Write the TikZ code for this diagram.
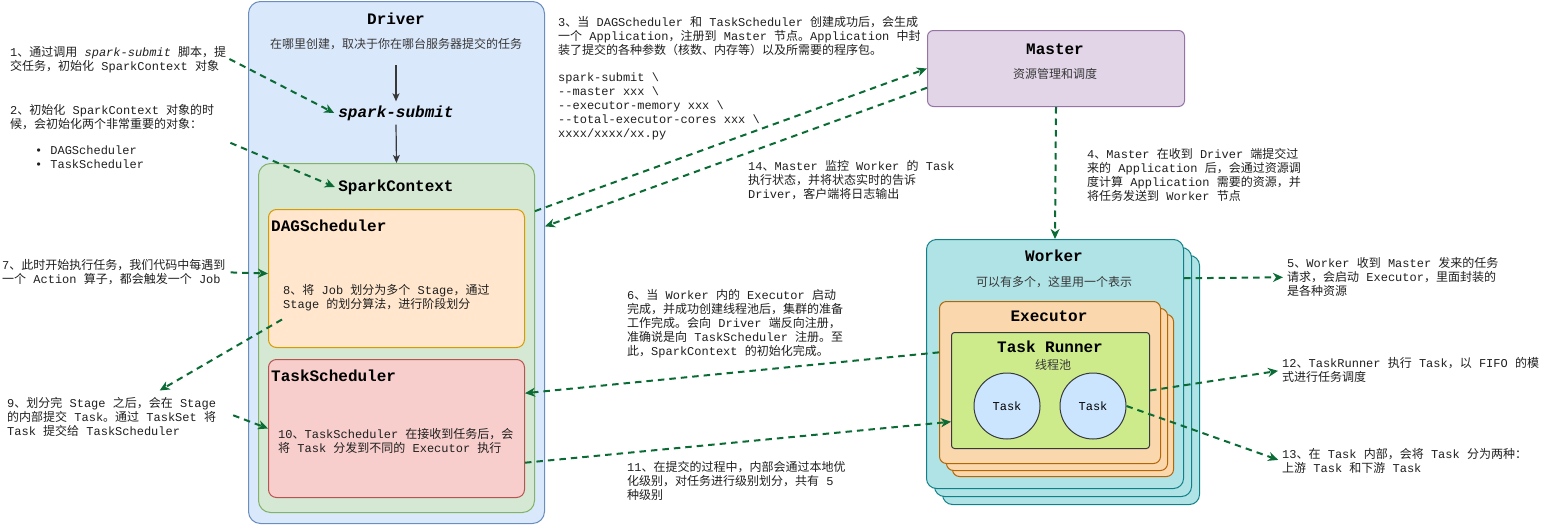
\documentclass[tikz,border=0pt]{standalone}
\usepackage{fontspec}
\setmainfont{Liberation Mono}
\setmonofont{Liberation Mono}
\newfontfamily\cjk{Noto Sans CJK SC}
\renewcommand{\familydefault}{\ttdefault}
\usetikzlibrary{arrows.meta,calc}
\XeTeXinterchartokenstate=1
\newXeTeXintercharclass\CJKcls
\newcount\cjkcnt
\cjkcnt="3000 \loop\XeTeXcharclass\cjkcnt=\CJKcls\relax\ifnum\cjkcnt<"9FFF\relax\advance\cjkcnt by 1 \repeat
\cjkcnt="FF00 \loop\XeTeXcharclass\cjkcnt=\CJKcls\relax\ifnum\cjkcnt<"FFEF\relax\advance\cjkcnt by 1 \repeat
\XeTeXinterchartoks 0 \CJKcls = {\cjk}
\XeTeXinterchartoks 4095 \CJKcls = {\cjk}
\XeTeXinterchartoks \CJKcls 0 = {\normalfont}
\XeTeXinterchartoks \CJKcls 4095 = {\normalfont}
\definecolor{drvF}{HTML}{DAE8FC}\definecolor{drvD}{HTML}{6C8EBF}
\definecolor{scF}{HTML}{D5E8D4}\definecolor{scD}{HTML}{82B366}
\definecolor{dagF}{HTML}{FFE6CC}\definecolor{dagD}{HTML}{D79B00}
\definecolor{tsF}{HTML}{F8CECC}\definecolor{tsD}{HTML}{B85450}
\definecolor{msF}{HTML}{E1D5E7}\definecolor{msD}{HTML}{9673A6}
\definecolor{wkF}{HTML}{B0E3E6}\definecolor{wkD}{HTML}{0E8088}
\definecolor{exF}{HTML}{FAD7AC}\definecolor{exD}{HTML}{B46504}
\definecolor{trF}{HTML}{CDEB8B}\definecolor{trD}{HTML}{36393D}
\definecolor{tkF}{HTML}{CCE5FF}
\definecolor{flowC}{HTML}{0B6B35}
\begin{document}
\begin{tikzpicture}[x=1pt,y=-1pt,
  box/.style={draw, line width=1pt, anchor=north west, inner sep=0pt},
  ttl/.style={font=\fontsize{16}{19}\selectfont\bfseries, text=black},
  subt/.style={font=\fontsize{12}{14}\selectfont, text=black!78},
  lbl/.style={font=\fontsize{12}{14}\selectfont, align=left, anchor=north west, inner sep=0pt, text=black!88},
  flow/.style={draw=flowC, line width=2pt, dash pattern=on 6.5pt off 5pt, -{Stealth[length=10pt,width=9pt,inset=3pt]}},
  blk/.style={draw=black!78, line width=1.2pt, -{Stealth[length=8pt,width=7pt,inset=2pt]}}
]
\useasboundingbox (0,0) rectangle (1547,525);

% Driver
\node[box, fill=drvF, draw=drvD, rounded corners=12pt, minimum width=296pt, minimum height=522pt] (driver) at (248,1) {};
\node[ttl] (drvT) at (396,19) {Driver};
\node[subt] (drvS) at (396,44) {在哪里创建，取决于你在哪台服务器提交的任务};
\node[font=\fontsize{16}{19}\selectfont\bfseries\itshape, inner sep=4pt] (submit) at (396,113) {spark-submit};
\node[box, fill=scF, draw=scD, rounded corners=12pt, minimum width=276pt, minimum height=349pt] (sc) at (258,163) {};
\node[ttl] (scT) at (396,187) {SparkContext};
\node[box, fill=dagF, draw=dagD, rounded corners=8pt, minimum width=256pt, minimum height=138pt] (dag) at (268,209) {};
\node[ttl, anchor=west, inner sep=0pt] (dagT) at (271,226) {DAGScheduler};
\node[lbl] (lbl8) at (283,284.5) {8、将 Job 划分为多个 Stage，通过\\Stage 的划分算法，进行阶段划分};
\node[box, fill=tsF, draw=tsD, rounded corners=8pt, minimum width=256pt, minimum height=138pt] (ts) at (268,359) {};
\node[ttl, anchor=west, inner sep=0pt] (tsT) at (271,376) {TaskScheduler};
\node[lbl] (lbl10) at (278,428.5) {10、TaskScheduler 在接收到任务后，会\\将 Task 分发到不同的 Executor 执行};

\draw[blk] ([yshift=-12pt]drvS.south) -- (submit.north);
\draw[blk] (submit.south) -- (sc.north);

% Master
\node[box, fill=msF, draw=msD, rounded corners=6pt, minimum width=257pt, minimum height=76pt] (master) at (927,30) {};
\node[ttl] (msT) at (1055,49) {Master};
\node[subt] (msS) at (1055,74) {资源管理和调度};

% Worker stack
\node[box, fill=wkF, draw=wkD, rounded corners=10pt, minimum width=257pt, minimum height=249pt] (worker3) at (942,255) {};
\node[box, fill=wkF, draw=wkD, rounded corners=10pt, minimum width=257pt, minimum height=249pt] (worker2) at (934,247) {};
\node[box, fill=wkF, draw=wkD, rounded corners=10pt, minimum width=257pt, minimum height=249pt] (worker) at (926,239) {};
\node[ttl] (wkT) at (1054,256) {Worker};
\node[subt] (wkS) at (1054,282) {可以有多个，这里用一个表示};

% Executor stack
\node[box, fill=exF, draw=exD, rounded corners=7pt, minimum width=221pt, minimum height=162pt] (exec3) at (952,314) {};
\node[box, fill=exF, draw=exD, rounded corners=7pt, minimum width=221pt, minimum height=162pt] (exec2) at (946,308) {};
\node[box, fill=exF, draw=exD, rounded corners=7pt, minimum width=221pt, minimum height=162pt] (exec) at (939,301) {};
\node[ttl] (exT) at (1049,316) {Executor};

% Task runner
\node[box, fill=trF, draw=trD, rounded corners=3pt, minimum width=198pt, minimum height=116pt] (runner) at (951,332) {};
\node[ttl] (trT) at (1050,347) {Task Runner};
\node[subt] (trS) at (1053,365) {线程池};
\node[circle, draw=trD, fill=tkF, line width=1pt, minimum size=66pt, inner sep=0pt, font=\fontsize{12}{14}\selectfont] (task1) at (1007,406) {Task};
\node[circle, draw=trD, fill=tkF, line width=1pt, minimum size=66pt, inner sep=0pt, font=\fontsize{12}{14}\selectfont] (task2) at (1093,406) {Task};

% Labels
\node[lbl] (lbl1) at (10,46.5) {1、通过调用 {\itshape spark-submit} 脚本，提\\交任务，初始化 SparkContext 对象};
\node[lbl] (lbl2) at (10,104.5) {2、初始化 SparkContext 对象的时\\候，会初始化两个非常重要的对象：\\[12pt]\hspace*{25pt}•\hspace{8pt}DAGScheduler\\\hspace*{25pt}•\hspace{8pt}TaskScheduler};
\node[lbl] (lbl3) at (558,16.5) {3、当 DAGScheduler 和 TaskScheduler 创建成功后，会生成\\一个 Application，注册到 Master 节点。Application 中封\\装了提交的各种参数（核数、内存等）以及所需要的程序包。\\[13pt]spark-submit \textbackslash\\-{}-master xxx \textbackslash\\-{}-executor-memory xxx \textbackslash\\-{}-total-executor-cores xxx \textbackslash\\xxxx/xxxx/xx.py};
\node[lbl] (lbl14) at (748,160.5) {14、Master 监控 Worker 的 Task\\执行状态，并将状态实时的告诉\\Driver，客户端将日志输出};
\node[lbl] (lbl4) at (1087,148.5) {4、Master 在收到 Driver 端提交过\\来的 Application 后，会通过资源调\\度计算 Application 需要的资源，并\\将任务发送到 Worker 节点};
\node[lbl] (lbl5) at (1287,257.5) {5、Worker 收到 Master 发来的任务\\请求，会启动 Executor，里面封装的\\是各种资源};
\node[lbl] (lbl6) at (627,289.5) {6、当 Worker 内的 Executor 启动\\完成，并成功创建线程池后，集群的准备\\工作完成。会向 Driver 端反向注册，\\准确说是向 TaskScheduler 注册。至\\此，SparkContext 的初始化完成。};
\node[lbl] (lbl11) at (627,461.5) {11、在提交的过程中，内部会通过本地优\\化级别，对任务进行级别划分，共有 5\\种级别};
\node[lbl] (lbl12) at (1282,357.5) {12、TaskRunner 执行 Task，以 FIFO 的模\\式进行任务调度};
\node[lbl] (lbl13) at (1282,448.5) {13、在 Task 内部，会将 Task 分为两种：\\上游 Task 和下游 Task};
\node[lbl] (lbl7) at (2,259.5) {7、此时开始执行任务，我们代码中每遇到\\一个 Action 算子，都会触发一个 Job};
\node[lbl] (lbl9) at (7,397.5) {9、划分完 Stage 之后，会在 Stage\\的内部提交 Task。通过 TaskSet 将\\Task 提交给 TaskScheduler};

% Flow arrows
\draw[flow] ($(lbl1.east)+(3,-1)$) -- (submit.west);
\draw[flow] ($(lbl2.east)+(16,6)$) -- (scT.west);
\draw[flow] ($(sc.north east)!0.1375!(sc.south east)$) -- (master.west);
\draw[flow] ($(master.north west)!0.75!(master.south west)$) -- ($(driver.north east)!0.431!(driver.south east)$);
\draw[flow] (master.south) -- (worker.north);
\draw[flow, shorten >=4pt] ($(worker.north east)!0.157!(worker.south east)$) -- (lbl5.west);
\draw[flow] ($(exec.north west)!0.315!(exec.south west)$) -- ($(ts.north east)!0.246!(ts.south east)$);
\draw[flow] ($(ts.north east)!0.746!(ts.south east)$) -- ($(runner.north west)!0.767!(runner.south west)$);
\draw[flow, shorten >=4pt] (runner.east) -- (lbl12.west);
\draw[flow, shorten >=4pt] (task2.east) -- (lbl13.west);
\draw[flow] ($(lbl7.east)+(5,0)$) -- ($(dag.north west)!0.464!(dag.south west)$);
\draw[flow] ($(lbl8.south west)+(-1,8)$) -- ($(lbl9.north)+(48,-7)$);
\draw[flow] ($(lbl9.east)+(17,-2)$) -- (ts.west);
\end{tikzpicture}
\end{document}
